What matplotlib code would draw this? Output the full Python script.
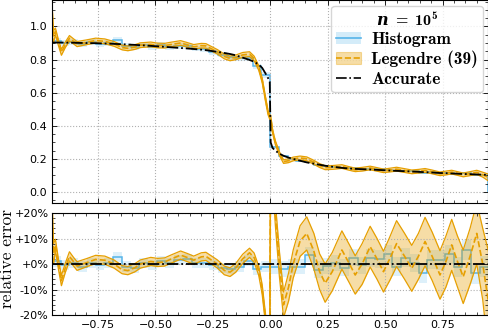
import numpy as np
import matplotlib
matplotlib.use("Agg")
import matplotlib.pyplot as plt
from matplotlib.patches import Patch
from matplotlib.lines import Line2D
from matplotlib.ticker import MultipleLocator, FuncFormatter

# common grid for the accurate curve and the Legendre estimate
grid_x = [-0.950, -0.947, -0.943, -0.935, -0.922, -0.909, -0.892, -0.874, -0.857, -0.841,
          -0.800, -0.760, -0.720, -0.680, -0.645, -0.620, -0.590, -0.565, -0.520,
          -0.490, -0.460, -0.430, -0.390, -0.360, -0.333, -0.300, -0.280, -0.255,
          -0.230, -0.200, -0.175, -0.150, -0.120, -0.090, -0.070, -0.050, -0.035,
          -0.020, -0.010, -0.002, 0.002, 0.010, 0.022, 0.040, 0.058, 0.080, 0.100,
          0.130, 0.159, 0.190, 0.215, 0.239, 0.270, 0.312, 0.345, 0.370, 0.400,
          0.435, 0.465, 0.493, 0.520, 0.550, 0.585, 0.616, 0.645, 0.674, 0.705,
          0.739, 0.765, 0.790, 0.815, 0.840, 0.870, 0.899, 0.925, 0.950]
accurate = [0.903, 0.903, 0.903, 0.903, 0.903, 0.903, 0.903, 0.902, 0.902, 0.901,
            0.900, 0.899, 0.897, 0.895, 0.893, 0.891, 0.889, 0.887, 0.883,
            0.880, 0.877, 0.874, 0.870, 0.867, 0.864, 0.860, 0.857, 0.852,
            0.847, 0.840, 0.834, 0.826, 0.812, 0.798, 0.787, 0.770, 0.750,
            0.715, 0.690, 0.665, 0.300, 0.267, 0.250, 0.232, 0.219, 0.208, 0.200,
            0.189, 0.179, 0.171, 0.165, 0.159, 0.153, 0.146, 0.142, 0.140, 0.138,
            0.136, 0.134, 0.132, 0.130, 0.128, 0.126, 0.124, 0.122, 0.120, 0.118,
            0.115, 0.114, 0.112, 0.111, 0.109, 0.108, 0.106, 0.105, 0.103]
# Legendre (39) relative error in %, and half width of its band in %
leg_err = [14.0, 11.0, 4.0, 7.5, 0.0, -6.5, -1.5, 3.0, 1.0, -0.8,
           0.5, 1.8, 1.5, 0.0, -2.2, -2.6, -1.5, 0.0, 1.0,
           0.6, 0.8, 2.0, 3.5, 2.5, 1.5, 2.8, 3.0, 1.5,
           0.0, -2.5, -3.2, -1.5, 2.0, 4.4, 2.5, -2.7, -10.0,
           -22.0, -30.0, -32.0, 50.0, 38.0, 20.0, 0.0, -16.0, -9.0, 0.0,
           9.0, 12.0, 5.0, -3.0, -7.5, -3.0, 5.5, 0.0, -4.3, 0.0,
           6.8, 2.0, -3.0, 2.0, 8.0, 3.0, -1.7, 3.0, 8.8, 3.0,
           -4.3, 1.0, 7.5, 1.0, -5.0, 3.0, 12.0, 0.0, -15.0]
leg_hw = [11.0, 8.0, 4.0, 2.2, 2.0, 2.0, 1.8, 1.8, 1.7, 1.7,
          1.6, 1.6, 1.6, 1.6, 1.6, 1.6, 1.6, 1.6, 1.6,
          1.6, 1.6, 1.6, 1.6, 1.6, 1.6, 1.6, 1.6, 1.6,
          1.6, 1.7, 1.7, 1.7, 1.8, 1.8, 1.8, 1.8, 1.9,
          2.0, 2.0, 2.0, 4.5, 4.5, 4.5, 5.0, 5.0, 5.5, 5.5,
          6.0, 6.5, 7.0, 7.0, 7.5, 7.5, 7.5, 7.5, 7.5, 8.0,
          8.0, 8.0, 8.0, 8.5, 9.0, 9.0, 9.0, 9.0, 9.5, 9.5,
          9.5, 10.0, 10.0, 10.0, 10.5, 11.0, 12.0, 14.0, 20.0]

# histogram: 50 bins on [-0.95, 0.95]
hist_edges = [-0.950, -0.912, -0.874, -0.836, -0.798, -0.760, -0.722, -0.684, -0.646,
              -0.608, -0.570, -0.532, -0.494, -0.456, -0.418, -0.380, -0.342, -0.304,
              -0.266, -0.228, -0.190, -0.152, -0.114, -0.076, -0.038, 0.000, 0.038,
              0.076, 0.114, 0.152, 0.190, 0.228, 0.266, 0.304, 0.342, 0.380, 0.418,
              0.456, 0.494, 0.532, 0.570, 0.608, 0.646, 0.684, 0.722, 0.760, 0.798,
              0.836, 0.874, 0.912, 0.950]
hist_ref = [0.903, 0.903, 0.902, 0.901, 0.899, 0.898, 0.896, 0.894, 0.891, 0.889,
            0.885, 0.882, 0.878, 0.874, 0.871, 0.867, 0.862, 0.857, 0.851, 0.843,
            0.832, 0.816, 0.798, 0.774, 0.715, 0.272, 0.220, 0.202, 0.188, 0.175,
            0.166, 0.157, 0.150, 0.145, 0.141, 0.138, 0.136, 0.134, 0.131, 0.128,
            0.126, 0.124, 0.121, 0.118, 0.116, 0.113, 0.111, 0.108, 0.106, 0.104]
hist_err = [1.0, -0.5, 0.5, -1.0, 0.5, -0.5, 0.5, 2.6, -1.0, -1.5,
            0.5, -0.5, 1.0, 0.5, 1.5, 2.0, 0.5, 0.5, -0.5, -1.5,
            -2.0, -1.0, 1.3, -2.0, -1.0, -1.0, -2.0, -1.0, -1.0, 3.7,
            -2.2, -0.9, 0.4, -1.5, 2.5, -0.5, 2.5, 2.0, 3.8, -1.0,
            2.5, 0.3, -3.7, 1.6, 1.6, 3.8, -1.0, 5.5, -3.7, -1.0]
hist_band = [2.0, 2.0, 2.0, 2.0, 2.0, 2.0, 2.0, 2.0, 2.0, 2.0,
             2.0, 2.0, 2.0, 2.0, 2.0, 2.0, 2.0, 2.0, 2.0, 2.0,
             2.0, 2.1, 2.1, 2.2, 2.3, 2.8, 3.0, 3.0, 3.0, 3.0,
             3.2, 3.2, 3.3, 3.3, 3.4, 3.4, 3.5, 3.5, 3.5, 3.6,
             3.6, 3.6, 3.7, 3.7, 3.8, 3.8, 3.9, 3.9, 4.0, 4.0]

blue = "#56B4E9"
orange = "#E69F00"

x = np.array(grid_x)
acc = np.array(accurate)
err = np.array(leg_err)
hw = np.array(leg_hw)
h_ref = np.array(hist_ref)
h_err = np.array(hist_err)
h_band = np.array(hist_band)

plt.rcParams["mathtext.fontset"] = "custom"
plt.rcParams["mathtext.rm"] = "cmr10"
plt.rcParams["mathtext.bf"] = "cmb10"
plt.rcParams["mathtext.it"] = "cmmi10"
if "mathtext.bfit" in plt.rcParams:
    plt.rcParams["mathtext.bfit"] = "DejaVu Serif:italic:bold"
    title = r"$\mathbfit{n}\mathbf{\ =\ 10^5}$"
else:
    title = r"$\mathbf{n\ =\ 10^5}$"

fig = plt.figure(figsize=(4.89, 3.31), dpi=100)
ax1 = fig.add_axes([0.1063, 0.3858, 0.8926, 0.6132])
ax2 = fig.add_axes([0.1063, 0.0483, 0.8926, 0.3082])

# top panel
ax1.stairs(h_ref * (1 + (h_err + h_band) / 100), hist_edges,
           baseline=h_ref * (1 + (h_err - h_band) / 100), fill=True,
           color=blue, alpha=0.2, lw=0)
ax1.stairs(h_ref * (1 + h_err / 100), hist_edges, baseline=0,
           color=blue, lw=1.1)
ax1.fill_between(x, acc * (1 + (err - hw) / 100), acc * (1 + (err + hw) / 100),
                 color=orange, alpha=0.35, lw=0)
ax1.plot(x, acc * (1 + (err + hw) / 100), color=orange, lw=0.9)
ax1.plot(x, acc * (1 + (err - hw) / 100), color=orange, lw=0.9)
ax1.plot(x, acc * (1 + err / 100), color=orange, lw=1.2, ls="--")
ax1.plot(x, acc, color="black", lw=1.3, ls="-.")

# bottom panel
ax2.stairs(h_err + h_band, hist_edges, baseline=h_err - h_band, fill=True,
           color=blue, alpha=0.2, lw=0)
ax2.stairs(h_err, hist_edges, baseline=None, color=blue, lw=1.1)
ax2.fill_between(x, err - hw, err + hw, color=orange, alpha=0.35, lw=0)
ax2.plot(x, err + hw, color=orange, lw=0.9)
ax2.plot(x, err - hw, color=orange, lw=0.9)
ax2.plot(x, err, color=orange, lw=1.2, ls="--")
ax2.plot(x, np.zeros_like(x), color="black", lw=1.3, ls="-.")

for ax in (ax1, ax2):
    ax.set_xlim(-0.95, 0.95)
    ax.xaxis.set_major_locator(MultipleLocator(0.25))
    ax.xaxis.set_minor_locator(MultipleLocator(0.05))
    ax.tick_params(which="both", direction="in", top=True, right=True,
                   labelsize=8)
    ax.tick_params(which="major", length=3.5, width=0.6)
    ax.tick_params(which="minor", length=2, width=0.5)
    ax.grid(True, which="major", ls=":", color="#b0b0b0", lw=0.8)
    for s in ax.spines.values():
        s.set_linewidth(0.8)

ax1.set_ylim(-0.068, 1.158)
ax1.yaxis.set_major_locator(MultipleLocator(0.2))
ax1.yaxis.set_minor_locator(MultipleLocator(0.05))
ax1.tick_params(labelbottom=False)

ax2.set_ylim(-20, 20)
ax2.yaxis.set_major_locator(MultipleLocator(10))
ax2.yaxis.set_minor_locator(MultipleLocator(2))
ax2.yaxis.set_major_formatter(FuncFormatter(lambda v, p: f"{v:+.0f}%"))
ax2.tick_params(axis="y", pad=2.5)
ax2.set_ylabel("relative error", family="cmr10", fontsize=12.5)
ax2.yaxis.set_label_coords(-0.085, 0.55)

handles = [
    (Patch(facecolor=blue, alpha=0.25, lw=0), Line2D([], [], color=blue, lw=1.2)),
    (Patch(facecolor=orange, alpha=0.35, edgecolor=orange, lw=0.8),
     Line2D([], [], color=orange, lw=1.2, ls="--")),
    Line2D([], [], color="black", lw=1.2, ls="-."),
]
leg = ax1.legend(handles, ["Histogram", "Legendre (39)", "Accurate"],
                 loc="upper right", title=title,
                 prop={"family": "cmb10", "size": 12.5}, title_fontsize=11.5,
                 handlelength=1.4, labelspacing=0.2, borderaxespad=0.3,
                 handletextpad=0.6, borderpad=0.3)

fig.savefig("out.png", dpi=100)
